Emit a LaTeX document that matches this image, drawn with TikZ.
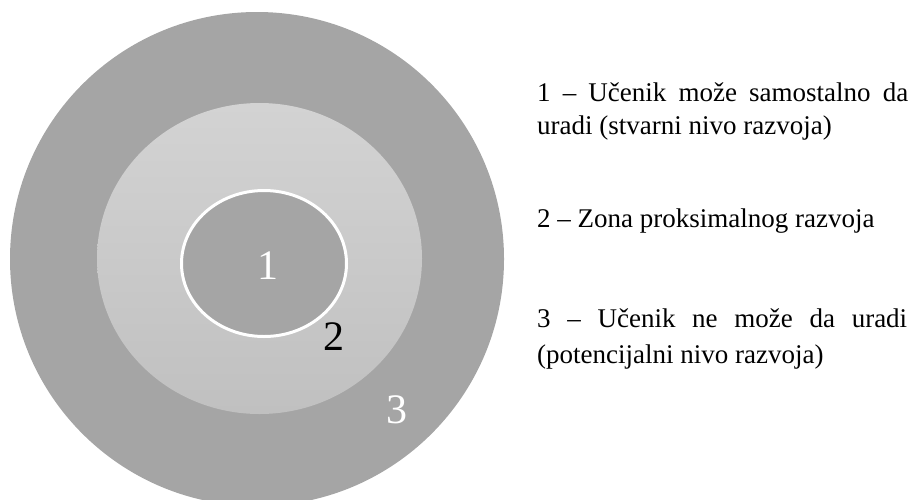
\documentclass[tikz,border=0pt]{standalone}
\usepackage{fontspec}
\setmainfont{Liberation Serif}
\definecolor{ringgray}{HTML}{A5A5A5}
\definecolor{zonetop}{HTML}{D3D3D3}
\definecolor{zonebot}{HTML}{C0C0C0}
\tikzset{
  digit/.style={font=\fontsize{42}{50}\selectfont, inner sep=0pt},
  legend/.style={font=\fontsize{27}{33}\selectfont, inner sep=0pt, anchor=base west},
}
\begin{document}
\begin{tikzpicture}[x=1pt,y=-1pt]
\useasboundingbox (0,0) rectangle (912,499);
\clip (0,0) rectangle (912,499);
% outer zone 3
\fill[ringgray] (257,259) ellipse [x radius=247, y radius=247];
% zone 2
\shade[top color=zonetop, bottom color=zonebot] (259.5,258.5) ellipse [x radius=162.5, y radius=155.5];
% zone 1
\filldraw[fill=ringgray, draw=white, line width=3pt] (264,263.5) ellipse [x radius=82.5, y radius=73];
\node[digit, text=white] (d1) at (268,266) {1};
\node[digit, text=black] (d2) at (334,337) {2};
\node[digit, text=white] (d3) at (397,410) {3};
% legend
\node[legend] (l1a) at (537,101) {\makebox[371pt][s]{1 – Učenik može samostalno da}};
\node[legend] (l1b) at (537,134) {uradi (stvarni nivo razvoja)};
\node[legend] (l2) at (537,227) {2 – Zona proksimalnog razvoja};
\node[legend] (l3a) at (537,327) {\makebox[370pt][s]{3 – Učenik ne može da uradi}};
\node[legend] (l3b) at (537,363) {(potencijalni nivo razvoja)};
\end{tikzpicture}
\end{document}
